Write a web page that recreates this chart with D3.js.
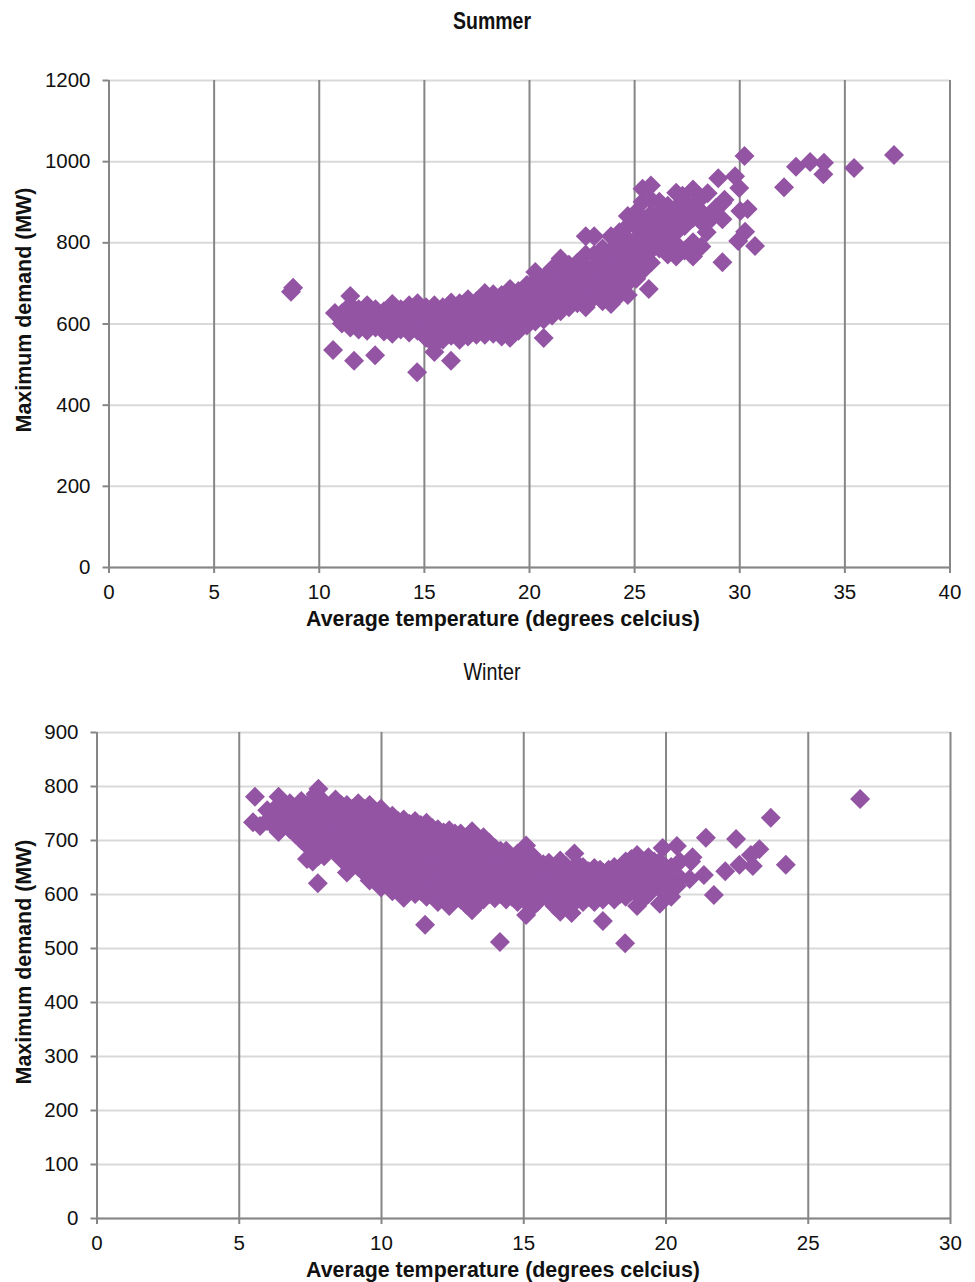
<!doctype html>
<html>
 <head>
  <title>Maximum demand against average temperature</title>
  <meta charset='utf-8'>
  <style>
    html,
    body{
      margin:0;
      background:white;
    }
    svg{
      display:block;
    }
    text{
      font-family:'Liberation Sans',Arial,sans-serif;
      fill:#111;
    }
    .tick text{
      font-size:20.5px;
    }
    .domain,
    .vgrid line,
    .axis line{
      stroke:#868686;
      stroke-width:2px;
    }
    .hgrid line{
      stroke:#d9d9d9;
      stroke-width:2px;
    }
    .grid .domain{
      display:none;
    }
    .label{
      font-size:21.4px;
      font-weight:bold;
      text-anchor:middle;
    }
    .dot{
      fill:#9454a4;
    }
  </style>
 </head>
 <body>
  <div id='chart'></div>
  <script src='https://cdn.jsdelivr.net/npm/d3@7/dist/d3.min.js'></script>
  <script>

    var xLabel = 'Average temperature (degrees celcius)'
    var yLabel = 'Maximum demand (MW)'

    var summerXTicks = [0,5,10,15,20,25,30,35,40]
    var summerYTicks = [0,200,400,600,800,1000,1200]
    var winterXTicks = [0,5,10,15,20,25,30]
    var winterYTicks = [0,100,200,300,400,500,600,700,800,900]

    // [temperature, demand]
    var summerOutliers = [
      [8.78,688],[8.68,678],[10.77,626],[10.68,535],[11.68,508],[12.68,522],[14.68,480],[15.5,530],[16.29,508],[20.7,564],
      [37.36,1015],[35.46,983],[34.03,996],[34.0,968],[33.37,998],[32.7,986],[32.13,936],[30.25,1013],
      [29.8,963],[30.0,934],[29.0,958],[29.2,751],[30.75,791],[30.28,826],[29.95,803],[30.4,882],[30.05,877],
      [29.2,857],[29.2,897],[28.5,921],[28.3,870],[28.45,825],[28.9,885],[28.7,860],[29.3,905]
    ]
    var summerBand = [
      [11.1,600],[11.1,625],
      [11.5,590],[11.5,618],[11.5,645],[11.5,668],
      [11.9,585],[11.9,610],[11.9,635],
      [12.3,582],[12.3,615],[12.3,645],
      [12.7,590],[12.7,622],[12.7,635],
      [13.1,580],[13.1,610],[13.1,630],
      [13.5,575],[13.5,603],[13.5,625],[13.5,648],
      [13.9,585],[13.9,615],[13.9,635],
      [14.3,578],[14.3,605],[14.3,630],[14.3,645],
      [14.7,582],[14.7,612],[14.7,640],[14.7,650],
      [15.1,565],[15.1,595],[15.1,620],[15.1,640],
      [15.5,548],[15.5,575],[15.5,600],[15.5,625],[15.5,645],
      [15.9,560],[15.9,590],[15.9,615],[15.9,640],
      [16.3,570],[16.3,600],[16.3,630],[16.3,652],
      [16.7,560],[16.7,585],[16.7,610],[16.7,635],[16.7,650],
      [17.1,568],[17.1,595],[17.1,620],[17.1,645],[17.1,660],
      [17.5,572],[17.5,605],[17.5,630],[17.5,655],
      [17.9,572],[17.9,600],[17.9,625],[17.9,650],[17.9,675],
      [18.3,575],[18.3,610],[18.3,635],[18.3,660],[18.3,672],
      [18.7,568],[18.7,595],[18.7,620],[18.7,645],[18.7,670],
      [19.1,565],[19.1,590],[19.1,615],[19.1,640],[19.1,665],[19.1,685],
      [19.5,582],[19.5,610],[19.5,635],[19.5,660],[19.5,680],
      [19.9,595],[19.9,625],[19.9,650],[19.9,675],[19.9,695],
      [20.3,605],[20.3,630],[20.3,655],[20.3,680],[20.3,705],[20.3,727],
      [20.7,610],[20.7,635],[20.7,660],[20.7,685],[20.7,710],
      [21.1,620],[21.1,645],[21.1,670],[21.1,695],[21.1,720],[21.1,735],
      [21.5,630],[21.5,655],[21.5,680],[21.5,705],[21.5,730],[21.5,760],
      [21.9,640],[21.9,665],[21.9,690],[21.9,715],[21.9,745],
      [22.3,650],[22.3,675],[22.3,700],[22.3,725],[22.3,750],
      [22.7,640],[22.7,665],[22.7,690],[22.7,715],[22.7,740],[22.7,770],[22.7,815],
      [23.1,665],[23.1,690],[23.1,715],[23.1,740],[23.1,770],[23.1,815],
      [23.5,655],[23.5,680],[23.5,705],[23.5,730],[23.5,755],[23.5,785],
      [23.9,648],[23.9,675],[23.9,700],[23.9,725],[23.9,750],[23.9,780],[23.9,815],
      [24.3,670],[24.3,695],[24.3,720],[24.3,745],[24.3,770],[24.3,800],[24.3,825],
      [24.7,670],[24.7,700],[24.7,725],[24.7,750],[24.7,775],[24.7,805],[24.7,840],[24.7,865],
      [25.1,710],[25.1,735],[25.1,760],[25.1,785],[25.1,810],[25.1,840],[25.1,875],
      [25.4,730],[25.4,770],[25.4,800],[25.4,830],[25.4,860],[25.4,900],[25.4,932],
      [25.7,685],[25.8,750],[25.8,780],[25.8,810],[25.8,840],[25.8,870],[25.8,905],[25.8,940],
      [26.2,785],[26.2,815],[26.2,845],[26.2,875],[26.2,900],
      [26.6,770],[26.6,800],[26.6,830],[26.6,860],[26.6,890],
      [27,765],[27,795],[27,825],[27,855],[27,885],[27,922],
      [27.4,780],[27.4,840],[27.4,870],[27.4,900],[27.3,915],
      [27.8,765],[27.8,800],[27.8,860],[27.8,890],[27.8,930],
      [28.2,790],[28.2,850],[28.1,905]
    ]

    var winterOutliers = [
      [26.84,776],[23.7,741],[24.23,654],[23.07,652],[22.48,702],[21.42,704],[23.3,683],[23.0,672],[22.6,654],[22.1,642],
      [21.7,598],[21.35,635],[20.9,660],[20.95,668],[20.4,689],[19.9,685],[18.58,509],[14.18,511],[11.55,543],[7.78,620],
      [5.57,780],[5.5,733],[5.75,726],[6.4,780],[20.85,628],[20.4,615]
    ]
    var winterBand = [
      [6.0,735],[6.0,755],
      [6.4,715],[6.4,740],[6.4,765],
      [6.8,720],[6.8,745],[6.8,768],
      [7.2,700],[7.2,725],[7.2,750],[7.2,772],
      [7.4,665],[7.4,690],
      [7.6,660],[7.6,685],[7.6,710],[7.6,735],[7.6,760],[7.7,785],
      [8.0,670],[8.0,695],[8.0,720],[8.0,745],[8.0,770],[7.8,795],
      [8.4,680],[8.4,705],[8.4,730],[8.4,755],[8.4,775],
      [8.8,640],[8.8,665],[8.8,690],[8.8,715],[8.8,740],[8.8,765],
      [9.2,650],[9.2,675],[9.2,700],[9.2,725],[9.2,750],[9.2,768],
      [9.6,625],[9.6,650],[9.6,675],[9.6,700],[9.6,725],[9.6,750],[9.6,765],
      [10.0,612],[10.0,640],[10.0,665],[10.0,690],[10.0,715],[10.0,740],[10.0,758],
      [10.4,605],[10.4,630],[10.4,655],[10.4,680],[10.4,705],[10.4,730],[10.4,745],
      [10.8,593],[10.8,620],[10.8,645],[10.8,670],[10.8,695],[10.8,720],[10.8,738],
      [11.2,600],[11.2,625],[11.2,650],[11.2,675],[11.2,700],[11.2,725],[11.2,735],
      [11.6,595],[11.6,620],[11.6,645],[11.6,670],[11.6,695],[11.6,720],[11.6,732],
      [12.0,585],[12.0,610],[12.0,635],[12.0,660],[12.0,685],[12.0,710],[12.0,720],
      [12.4,578],[12.4,605],[12.4,630],[12.4,655],[12.4,680],[12.4,705],[12.4,718],
      [12.8,590],[12.8,615],[12.8,640],[12.8,665],[12.8,690],[12.8,712],
      [13.2,570],[13.2,598],[13.2,625],[13.2,650],[13.2,675],[13.2,700],[13.2,716],
      [13.6,590],[13.6,615],[13.6,640],[13.6,665],[13.6,690],[13.6,705],
      [14.0,592],[14.0,615],[14.0,640],[14.0,662],[14.0,685],
      [14.4,590],[14.4,612],[14.4,635],[14.4,658],[14.4,680],
      [14.8,585],[14.8,610],[14.8,632],[14.8,655],[14.8,675],
      [15.1,561],[15.1,590],[15.1,615],[15.1,640],[15.1,665],[15.1,690],
      [15.5,585],[15.5,610],[15.5,635],[15.5,660],
      [15.9,590],[15.9,612],[15.9,635],[15.9,658],
      [16.3,567],[16.3,590],[16.3,615],[16.3,640],[16.3,662],
      [16.7,565],[16.7,595],[16.7,620],[16.7,645],[16.8,675],
      [17.1,585],[17.1,608],[17.1,632],[17.1,650],
      [17.5,585],[17.5,610],[17.5,632],[17.5,648],
      [17.8,550],[17.8,590],[17.8,615],[17.8,640],
      [18.2,590],[18.2,612],[18.2,635],[18.2,650],
      [18.6,595],[18.6,615],[18.6,640],[18.6,660],
      [19.0,578],[19.0,605],[19.0,630],[19.0,655],[19.0,672],
      [19.4,600],[19.4,625],[19.4,650],[19.4,668],
      [19.8,582],[19.8,610],[19.8,635],[19.8,660],
      [20.2,595],[20.2,620],[20.2,650],
      [20.5,630],[20.5,660]
    ]
    // the solid part of the winter cloud sits between those columns
    var winterFill = [
      [6.2,728],[6.2,750],[6.6,730],[6.6,755],[7.0,710],[7.0,735],[7.0,760],
      [7.4,715],[7.4,740],[7.4,765],[7.8,670],[7.8,700],[7.8,725],[7.8,750],[7.8,775],
      [8.2,685],[8.2,710],[8.2,735],[8.2,760],
      [8.6,665],[8.6,690],[8.6,715],[8.6,740],[8.6,765],
      [9.0,660],[9.0,685],[9.0,710],[9.0,735],[9.0,758],
      [9.4,640],[9.4,665],[9.4,690],[9.4,715],[9.4,740],[9.4,758],
      [9.8,635],[9.8,660],[9.8,685],[9.8,710],[9.8,735],[9.8,752],
      [10.2,620],[10.2,645],[10.2,670],[10.2,695],[10.2,720],[10.2,742],
      [10.6,610],[10.6,635],[10.6,660],[10.6,685],[10.6,710],[10.6,735],
      [11.0,610],[11.0,635],[11.0,660],[11.0,685],[11.0,710],[11.0,730],
      [11.4,605],[11.4,632],[11.4,658],[11.4,682],[11.4,708],[11.4,728],
      [11.8,600],[11.8,628],[11.8,652],[11.8,678],[11.8,702],[11.8,722],
      [12.2,595],[12.2,622],[12.2,648],[12.2,672],[12.2,698],[12.2,714],
      [12.6,598],[12.6,622],[12.6,648],[12.6,672],[12.6,698],[12.6,712],
      [13.0,580],[13.0,605],[13.0,628],[13.0,652],[13.0,678],[13.0,702],
      [13.4,582],[13.4,608],[13.4,632],[13.4,658],[13.4,682],[13.4,705],
      [13.8,600],[13.8,625],[13.8,650],[13.8,675],[13.8,695],
      [14.2,600],[14.2,625],[14.2,650],[14.2,672],[14.2,680],
      [14.6,595],[14.6,620],[14.6,645],[14.6,668],
      [15.0,600],[15.0,625],[15.0,648],[15.0,672],
      [15.3,575],[15.3,598],[15.3,622],[15.3,648],[15.3,672],
      [15.7,598],[15.7,622],[15.7,648],[15.7,655],
      [16.1,578],[16.1,602],[16.1,625],[16.1,648],
      [16.5,578],[16.5,602],[16.5,628],[16.5,652],
      [16.9,590],[16.9,612],[16.9,635],[16.9,655],
      [17.3,595],[17.3,620],[17.3,642],
      [17.7,600],[17.7,625],[17.7,645],
      [18.0,602],[18.0,625],[18.0,645],
      [18.4,600],[18.4,625],[18.4,645],
      [18.8,605],[18.8,628],[18.8,650],[18.8,665],
      [19.2,590],[19.2,615],[19.2,640],[19.2,660],
      [19.6,612],[19.6,638],[19.6,660],
      [20.0,605],[20.0,630],[20.0,650]
    ]

    var svg = d3.select('#chart')
                .append('svg')
                .attr('width',975)
                .attr('height',1282)

    function title(text,y,len,bold)
    {
      svg.append('text')
         .attr('x',492)
         .attr('y',y)
         .attr('text-anchor','middle')
         .attr('textLength',len)
         .attr('lengthAdjust','spacingAndGlyphs')
         .style('font-size','24px')
         .style('font-weight',bold ? 'bold' : 'normal')
         .text(text)
    }

    function panel(o)
    {
      var x = d3.scaleLinear().domain(o.xDomain).range([o.left,o.right])
      var y = d3.scaleLinear().domain(o.yDomain).range([o.bottom,o.top])
      var g = svg.append('g')

      // gridlines first, marks go over them
      g.append('g')
       .attr('class','grid hgrid')
       .attr('transform','translate(' + o.left + ',0)')
       .call(d3.axisLeft(y).tickValues(o.yTicks).tickSize(o.left - o.right).tickFormat(''))
      g.append('g')
       .attr('class','grid vgrid')
       .attr('transform','translate(0,' + o.bottom + ')')
       .call(d3.axisBottom(x).tickValues(o.xTicks).tickSize(o.top - o.bottom).tickFormat(''))

      g.append('g')
       .attr('class','axis')
       .attr('transform','translate(' + o.left + ',0)')
       .call(d3.axisLeft(y).tickValues(o.yTicks).tickSize(6).tickPadding(12).tickSizeOuter(0).tickFormat(d3.format('d')))
      g.append('g')
       .attr('class','axis')
       .attr('transform','translate(0,' + o.bottom + ')')
       .call(d3.axisBottom(x).tickValues(o.xTicks).tickSize(6).tickPadding(11).tickSizeOuter(0))

      g.selectAll('.dot')
       .data(o.points)
       .enter()
       .append('path')
       .attr('class','dot')
       .attr('d',d3.symbol().type(d3.symbolSquare).size(200))
       .attr('transform',function(d){
         return 'translate(' + x(d[0]) + ',' + y(d[1]) + ') rotate(45)'
       })

      g.append('text')
       .attr('class','label')
       .attr('x',503)
       .attr('y',o.bottom + 59)
       .text(xLabel)
      g.append('text')
       .attr('class','label')
       .attr('transform','translate(31,' + o.yLabelAt + ') rotate(-90)')
       .text(yLabel)
    }

    title('Summer',29,78,true)
    title('Winter',680,57,false)

    panel({
      left:108.5,right:949.5,top:80,bottom:567,yLabelAt:310,
      xDomain:[0,40],yDomain:[0,1200],
      xTicks:summerXTicks,yTicks:summerYTicks,
      points:summerBand.concat(summerOutliers)
    })
    panel({
      left:96.5,right:950,top:732,bottom:1218,yLabelAt:962,
      xDomain:[0,30],yDomain:[0,900],
      xTicks:winterXTicks,yTicks:winterYTicks,
      points:winterBand.concat(winterFill,winterOutliers)
    })
  </script>
 </body>
</html>
